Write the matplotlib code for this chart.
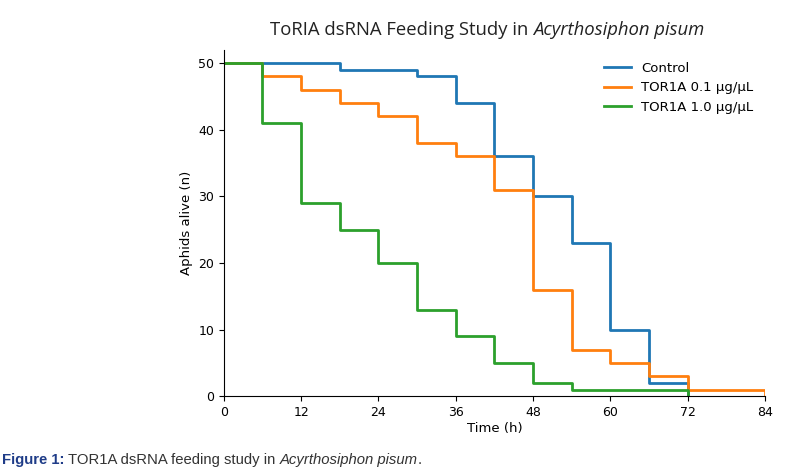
import numpy as np
import matplotlib.pyplot as plt

# Survival counts (every 6 h)
time_h = [0, 6, 12, 18, 24, 30, 36, 42, 48, 54, 60, 66, 72]
control = [50, 50, 50, 49, 49, 48, 44, 36, 30, 23, 10, 2, 0]
tor1a_01 = [50, 48, 46, 44, 42, 38, 36, 31, 16, 7, 5, 3, 1]
time_h_01 = time_h + [84]
tor1a_01_ext = tor1a_01 + [0]
tor1a_10 = [50, 41, 29, 25, 20, 13, 9, 5, 2, 1, 1, 1, 0]

labels = ["Control", "TOR1A 0.1 \u00b5g/\u00b5L", "TOR1A 1.0 \u00b5g/\u00b5L"]
xticks = [0, 12, 24, 36, 48, 60, 72, 84]
yticks = [0, 10, 20, 30, 40, 50]

fig = plt.figure(figsize=(7.88, 4.70), dpi=100)
ax = fig.add_axes([0.284, 0.157, 0.687, 0.737])

ax.plot(time_h, control, drawstyle="steps-post", lw=2, color="#1f77b4", label=labels[0])
ax.plot(time_h_01, tor1a_01_ext, drawstyle="steps-post", lw=2, color="#ff7f0e", label=labels[1])
ax.plot(time_h, tor1a_10, drawstyle="steps-post", lw=2, color="#2ca02c", label=labels[2])

ax.set_xlim(0, 84)
ax.set_ylim(0, 52)
ax.set_xticks(xticks)
ax.set_yticks(yticks)
ax.tick_params(labelsize=9)
ax.set_xlabel("Time (h)", fontsize=9.5, labelpad=2)
ax.set_ylabel("Aphids alive (n)", fontsize=9.5)
ax.spines["top"].set_visible(False)
ax.spines["right"].set_visible(False)
ax.legend(loc="upper right", frameon=False, fontsize=9.5, bbox_to_anchor=(1.0, 1.0))

fig.canvas.draw()
r = fig.canvas.get_renderer()
W = fig.bbox.width

# title: upright part + italic species name, centred as one line
ta = fig.text(0, 0.937, "ToRIA dsRNA Feeding Study in", fontsize=13.3,
              family="Open Sans", color="#222222", va="center")
tb = fig.text(0, 0.937, "Acyrthosiphon pisum", fontsize=13.3, style="italic",
              family="Open Sans", color="#222222", va="center")
wa = ta.get_window_extent(renderer=r).width
wb = tb.get_window_extent(renderer=r).width
gap = 5
x0 = 487 - (wa + wb + gap) / 2
ta.set_x(x0 / W)
tb.set_x((x0 + wa + gap) / W)

# caption below the chart
y = 0.012
t1 = fig.text(0.002, y, "Figure 1:", fontsize=10.7, fontweight="bold",
              family="Liberation Sans", color="#1f3c88", va="baseline")
bb = t1.get_window_extent(renderer=r)
t2 = fig.text((bb.x1 + 4) / W, y, "TOR1A dsRNA feeding study in", fontsize=10.7,
              family="Liberation Sans", color="#333333", va="baseline")
bb = t2.get_window_extent(renderer=r)
t3 = fig.text((bb.x1 + 4) / W, y, "Acyrthosiphon pisum", fontsize=10.7, style="italic",
              family="Liberation Sans", color="#333333", va="baseline")
bb = t3.get_window_extent(renderer=r)
fig.text(bb.x1 / W, y, ".", fontsize=10.7,
         family="Liberation Sans", color="#333333", va="baseline")

fig.savefig("out.png", dpi=100)
